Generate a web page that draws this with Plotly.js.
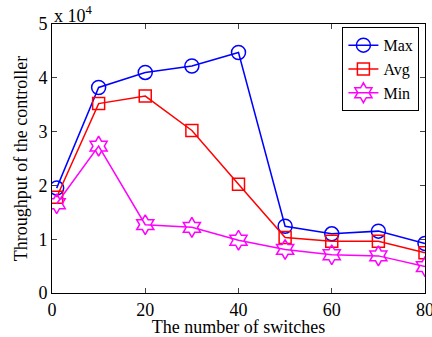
<!DOCTYPE html>
<html><head><meta charset="utf-8">
<script src="https://cdn.plot.ly/plotly-3.0.1.min.js"></script>
<style>body{margin:0;padding:0;background:#fff}#chart{width:432px;height:337px}</style>
</head><body><div id="chart"></div>
<script>
const switches = [1, 10, 20, 30, 40, 50, 60, 70, 80];
const maxVals = [19500, 38200, 41000, 42200, 44700, 12400, 11000, 11500, 9200];
const avgVals = [17800, 35200, 36600, 30200, 20200, 10300, 9600, 9600, 7500];
const minVals = [16600, 27300, 12700, 12200, 9800, 8100, 7100, 6900, 4900];
const yTickVals = [0, 10000, 20000, 30000, 40000, 50000];
const yTickText = ["0", "1", "2", "3", "4", "5"];
const xTickVals = [0, 20, 40, 60, 80];

const font = {family: "Liberation Serif, Times New Roman, serif", color: "#000"};
function tr(name, y, color, sym, size) {
  return {x: switches, y: y, name: name, mode: "lines+markers", type: "scatter",
    line: {color: color, width: 1.5},
    marker: {symbol: sym, size: size, color: color, line: {color: color, width: 1.5}}};
}
const data = [
  tr("Max", maxVals, "#0000ff", "circle-open", 14),
  tr("Avg", avgVals, "#ff0000", "square-open", 12),
  tr("Min", minVals, "#ff00ff", "hexagram-open", 15)
];
const layout = {
  width: 432, height: 337,
  margin: {l: 51.5, r: 6.5, t: 24, b: 44},
  paper_bgcolor: "#fff", plot_bgcolor: "#fff",
  font: Object.assign({size: 18}, font),
  showlegend: true,
  legend: {x: 0.985, y: 0.988, xanchor: "right", yanchor: "top",
    bordercolor: "#000", borderwidth: 1, bgcolor: "#fff",
    font: Object.assign({size: 16}, font), tracegroupgap: 0, itemwidth: 30},
  xaxis: {range: [0, 80], tickvals: xTickVals, ticks: "inside", ticklen: 5,
    showline: true, linecolor: "#000", linewidth: 1, mirror: "ticks",
    showgrid: false, zeroline: false, tickfont: Object.assign({size: 18}, font),
    ticklabeloverflow: "allow",
    title: {text: "The number of switches", font: Object.assign({size: 18}, font), standoff: 0}},
  yaxis: {range: [0, 50000], tickvals: yTickVals, ticktext: yTickText, ticks: "inside", ticklen: 5,
    showline: true, linecolor: "#000", linewidth: 1, mirror: "ticks",
    showgrid: false, zeroline: false, tickfont: Object.assign({size: 18}, font),
    ticklabeloverflow: "allow",
    title: {text: "Throughput of the controller", font: Object.assign({size: 18}, font), standoff: 6}},
  annotations: [{text: "x 10<sup>4</sup>", xref: "paper", yref: "paper", x: 0, y: 1,
    xanchor: "left", yanchor: "bottom", showarrow: false, xshift: 0, yshift: -4,
    font: Object.assign({size: 18}, font)}]
};
Plotly.newPlot("chart", data, layout, {displayModeBar: false, staticPlot: true});
</script></body></html>
